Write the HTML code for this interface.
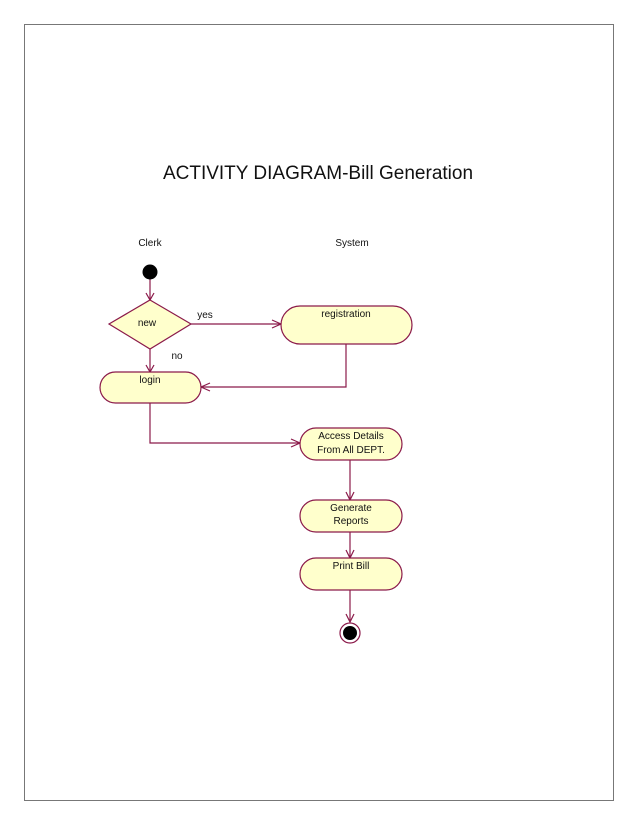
<!DOCTYPE html>
<html><head><meta charset="utf-8"><style>
body{margin:0;background:#fff;}
svg{display:block;}
text{font-family:"Liberation Sans",Arial,sans-serif;fill:#111;}
</style></head><body>
<svg width="638" height="826" viewBox="0 0 638 826" xmlns="http://www.w3.org/2000/svg">
<rect x="24.5" y="24.5" width="589" height="776" fill="#fff" stroke="#777" stroke-width="1"/>
<text x="318" y="179" font-size="19" text-anchor="middle" style="font-family:'Liberation Sans',Calibri,sans-serif">ACTIVITY DIAGRAM-Bill Generation</text>
<text x="150" y="246" font-size="10" text-anchor="middle">Clerk</text>
<text x="352" y="246" font-size="10" text-anchor="middle">System</text>
<g fill="none" stroke="#8b1a4a" stroke-width="1.2">
<path d="M150 279 V300"/><path d="M146 293 L150 300 L154 293"/>
<path d="M191 324 H281"/><path d="M272 320 L281 324 L272 328"/>
<path d="M150 349 V372"/><path d="M146 365 L150 372 L154 365"/>
<path d="M346 344 V387 H201"/><path d="M210 383 L201 387 L210 391"/>
<path d="M150 403 V443 H300"/><path d="M291 439 L300 443 L291 447"/>
<path d="M350 460 V500"/><path d="M346 492 L350 500 L354 492"/>
<path d="M350 532 V558"/><path d="M346 550 L350 558 L354 550"/>
<path d="M350 590 V622"/><path d="M346 614 L350 622 L354 614"/>
</g>
<g fill="#ffffcc" stroke="#8b1a4a" stroke-width="1.2">
<polygon points="150,300 191,324 150,349 109,324"/>
<rect x="281" y="306" width="131" height="38" rx="19"/>
<rect x="100" y="372" width="101" height="31" rx="15.5"/>
<rect x="300" y="428" width="102" height="32" rx="16"/>
<rect x="300" y="500" width="102" height="32" rx="16"/>
<rect x="300" y="558" width="102" height="32" rx="16"/>
</g>
<circle cx="150" cy="272" r="7.5" fill="#000"/>
<circle cx="350" cy="633" r="10" fill="#fff" stroke="#8b1a4a" stroke-width="1.2"/>
<circle cx="350" cy="633" r="7" fill="#000"/>
<g font-size="10" text-anchor="middle">
<text x="147" y="326">new</text>
<text x="205" y="318">yes</text>
<text x="177" y="359">no</text>
<text x="346" y="317">registration</text>
<text x="150" y="383">login</text>
<text x="351" y="439">Access Details</text>
<text x="351" y="453">From All DEPT.</text>
<text x="351" y="511">Generate</text>
<text x="351" y="524">Reports</text>
<text x="351" y="569">Print Bill</text>
</g>
</svg>
</body></html>
